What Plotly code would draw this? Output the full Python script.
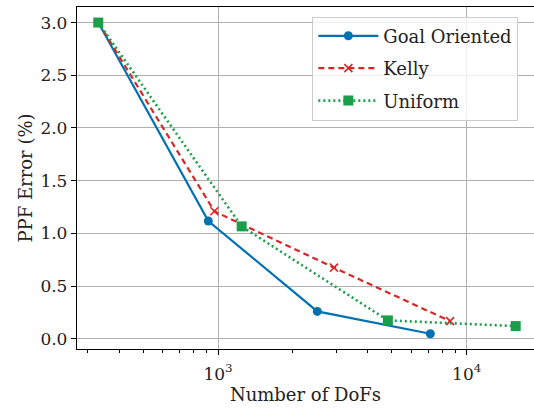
import plotly.graph_objects as go

goal_x = [330, 914, 2508, 7140]
goal_y = [3.0, 1.117, 0.259, 0.047]
kelly_x = [330, 967, 2927, 8575]
kelly_y = [3.0, 1.209, 0.674, 0.167]
unif_x = [330, 1245, 4819, 15740]
unif_y = [3.0, 1.066, 0.174, 0.12]

yticks = [0.0, 0.5, 1.0, 1.5, 2.0, 2.5, 3.0]
xticks = [1000, 10000]
xticklabels = ["10<sup>3</sup>", "10<sup>4</sup>"]
minor_x = [300, 400, 500, 600, 700, 800, 900, 2000, 3000, 4000, 5000, 6000, 7000, 8000, 9000]

FONT = "DejaVu Serif"
BLUE = "#0072b2"
RED = "#d62728"
GREEN = "#1b9e48"

fig = go.Figure()
fig.add_trace(go.Scatter(x=goal_x, y=goal_y, name="Goal Oriented", mode="lines+markers",
                         legendgroup="g1",
                         line=dict(color=BLUE, width=2.2),
                         marker=dict(symbol="circle", size=9, color=BLUE)))
fig.add_trace(go.Scatter(x=kelly_x, y=kelly_y, name="Kelly", mode="lines+markers",
                         legendgroup="g2",
                         line=dict(color=RED, width=2.2, dash="6px,4px"),
                         marker=dict(symbol="x-thin", size=8, color=RED, line=dict(color=RED, width=1.6))))
fig.add_trace(go.Scatter(x=unif_x, y=unif_y, name="Uniform", mode="lines+markers",
                         legendgroup="g3",
                         line=dict(color=GREEN, width=2.6, dash="2px,3px"),
                         marker=dict(symbol="square", size=10, color=GREEN)))

fig.update_layout(
    width=534, height=408,
    margin=dict(l=77, r=0, t=7, b=59),
    paper_bgcolor="white", plot_bgcolor="white",
    font=dict(family=FONT, size=17, color="#222222"),
    showlegend=True,
    legend=dict(x=0.515, y=0.972, xanchor="left", yanchor="top",
                bgcolor="rgba(255,255,255,0.8)", bordercolor="#cccccc", borderwidth=1,
                font=dict(family=FONT, size=18, color="#222222"),
                itemwidth=60, tracegroupgap=6),
)
fig.update_xaxes(type="log", range=[2.433, 4.2706],
                 tickvals=xticks, ticktext=xticklabels,
                 ticks="outside", ticklen=5, tickcolor="black",
                 ticklabelstandoff=4,
                 showgrid=True, gridcolor="#b0b0b0", gridwidth=1,
                 showline=True, linecolor="black", linewidth=1.3, mirror=True,
                 zeroline=False,
                 minor=dict(tickvals=minor_x, ticks="outside", ticklen=3, tickcolor="black", showgrid=False),
                 title=dict(text="Number of DoFs", font=dict(family=FONT, size=18), standoff=2),
                 tickfont=dict(family=FONT, size=17))
fig.update_yaxes(range=[-0.0975, 3.1475], tickvals=yticks,
                 ticktext=[f"{v:.1f}" for v in yticks],
                 ticks="outside", ticklen=5, tickcolor="black",
                 showgrid=True, gridcolor="#b0b0b0", gridwidth=1,
                 showline=True, linecolor="black", linewidth=1.3, mirror=False,
                 zeroline=False,
                 title=dict(text="PPF Error (%)", font=dict(family=FONT, size=18), standoff=3),
                 tickfont=dict(family=FONT, size=17))

fig.write_html("out.html")
